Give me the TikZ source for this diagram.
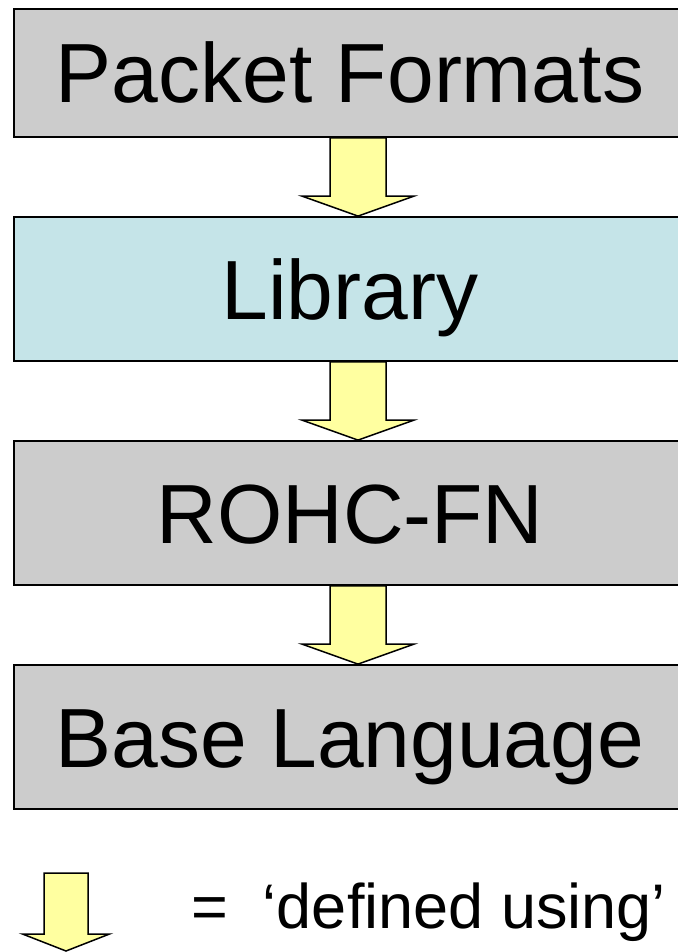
\documentclass[tikz,border=0pt]{standalone}
\usepackage{fontspec}
\setmainfont{Liberation Sans}
\usepackage{tikz}
\usetikzlibrary{positioning, calc}

\definecolor{boxgray}{RGB}{204,204,204}
\definecolor{libcyan}{RGB}{197,228,232}
\definecolor{arrowyellow}{RGB}{255,255,160}

\tikzset{
  layer/.style={rectangle, draw=black, line width=1.8pt, fill=boxgray,
    minimum width=672pt, minimum height=144pt, inner sep=0pt,
    text height=60pt, text depth=0pt, font=\fontsize{84}{84}\selectfont},
  usearrow/.style={draw=black, line width=1.5pt, fill=arrowyellow, line join=miter},
  legendtext/.style={inner sep=0pt, font=\fontsize{63}{63}\selectfont}
}

% block arrow from top centre #1 to tip #2 (half shaft, half head, head length)
\newcommand{\usingarrow}[5]{%
  \draw[usearrow] ($(#1)+(-#3,0)$) -- ($(#1)+(#3,0)$) -- ($(#2)+(#3,-#5)$)
    -- ($(#2)+(#4,-#5)$) -- (#2) -- ($(#2)+(-#4,-#5)$) -- ($(#2)+(-#3,-#5)$) -- cycle;}

\begin{document}
\begin{tikzpicture}[x=1pt, y=-1pt, node distance=78.2pt]
        \useasboundingbox (0,0) rectangle (677,952);

        % The four layers
        \node[layer, minimum height=128pt] (formats) at (350,73) {Packet Formats};
        \node[layer, fill=libcyan, below=of formats] (library) {Library};
        \node[layer, below=of library] (rohc) {ROHC-FN};
        \node[layer, below=of rohc] (base) {Base Language};

        % 'defined using' arrows
        \foreach \a/\b in {formats/library, library/rohc, rohc/base} {
            \coordinate (\a top) at ($(\a.south)+(8,0)$);
            \coordinate (\b tip) at ($(\b.north)+(8,0)$);
            \usingarrow{\a top}{\b tip}{28}{56}{20}
        }

        % Key
        \coordinate (keytop) at (66,873);
        \coordinate (keytip) at (66,951);
        \usingarrow{keytop}{keytip}{22}{43.5}{17}
        \node[legendtext, anchor=base west] (legend) at (191,928) {=\ \ ‘defined using’};
    \end{tikzpicture}
\end{document}
